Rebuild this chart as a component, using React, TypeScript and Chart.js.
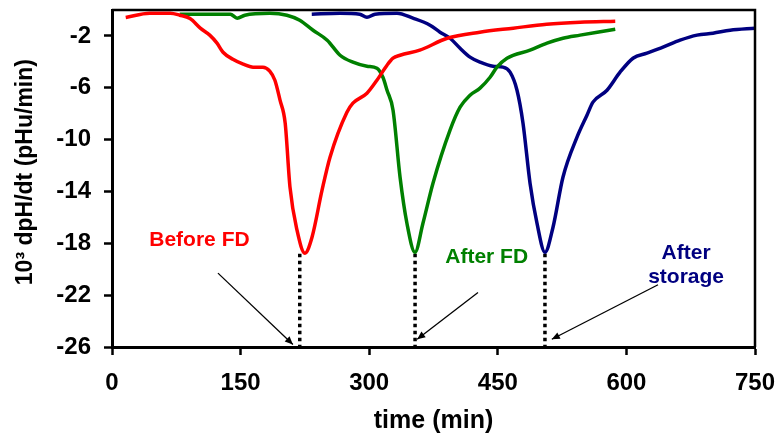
import React, { useEffect, useRef } from "react";
import { Chart, registerables } from "chart.js";

Chart.register(...registerables);

// Axis ticks
const xTicks = [0, 150, 300, 450, 600, 750];
const yTicks = [-2, -6, -10, -14, -18, -22, -26];

// Before FD (red)
const beforeFdTime = [16, 44, 68, 79, 91, 103, 114, 122.5, 129.5, 141, 153, 164.5, 176, 184, 190, 196, 202, 207.6, 215.8, 225, 233.3, 245, 254.3, 274, 281, 297.4, 309, 320.8, 327.8, 336, 359, 391, 429, 468, 507, 546, 587];
const beforeFdRate = [-0.58, -0.25, -0.25, -0.4, -0.66, -1.4, -1.94, -2.56, -3.26, -3.8, -4.18, -4.41, -4.41, -4.72, -5.42, -6.96, -8.73, -13.67, -16.99, -18.76, -17.53, -13.9, -11.36, -7.89, -7.19, -6.42, -5.42, -4.26, -3.72, -3.49, -3.1, -2.18, -1.71, -1.4, -1.1, -0.94, -0.86];

// After FD (green)
const afterFdTime = [79, 103, 138, 146, 155, 184, 204, 219, 234.5, 251, 266, 281, 297.4, 309, 316, 320.8, 327.8, 336, 344, 353.4, 362.7, 374.4, 394.3, 406, 417.6, 429.3, 441, 449, 460.7, 487.6, 507.4, 526, 546, 566, 587];
const afterFdRate = [-0.32, -0.32, -0.32, -0.63, -0.4, -0.25, -0.4, -0.79, -1.56, -2.33, -3.49, -4.03, -4.34, -4.49, -5.19, -6.19, -7.73, -12.9, -16.45, -18.69, -16.45, -13.36, -9.27, -7.5, -6.57, -6.03, -5.19, -4.41, -3.72, -3.1, -2.56, -2.18, -1.94, -1.71, -1.48];

// After storage (navy)
const afterStorageTime = [233, 266, 289, 297.4, 306.8, 332.4, 351, 371, 382.6, 394.3, 406, 417.6, 429.3, 444.4, 456, 464.3, 472.4, 479.4, 487.6, 495.7, 505, 514.4, 526, 542.4, 554, 561, 577.4, 592.6, 607.7, 624, 642.7, 662.6, 682.4, 701, 721, 750];
const afterStorageRate = [-0.32, -0.25, -0.32, -0.56, -0.32, -0.25, -0.63, -1.17, -1.71, -2.18, -2.95, -3.64, -4.03, -4.34, -4.41, -4.8, -6.19, -8.73, -13.36, -16.45, -18.69, -16.76, -12.9, -9.81, -8.12, -7.11, -6.19, -4.8, -3.72, -3.33, -2.87, -2.33, -1.94, -1.79, -1.56, -1.4];

// Dotted drop lines from each minimum to the axis
const dropTime = [219, 353.5, 505];
const dropTop = [-18.8, -18.8, -18.8];
const dropBottom = [-26, -26, -26];

// Arrows (start -> end)
const arrowStartTime = [123.6, 426.9, 636.9];
const arrowStartRate = [-20.3, -21.8, -21.2];
const arrowEndTime = [211, 356, 513];
const arrowEndRate = [-25.8, -25.4, -25.4];

// Annotation labels
const labelLines = [["Before FD"], ["After FD"], ["After", "storage"]];
const labelTime = [102, 437, 669.6];
const labelRate = [-17.76, -19.07, -19.7];
const labelColors = ["#ff0000", "#008000", "#000080"];

const FONT = "'Liberation Sans', Arial, Helvetica, sans-serif";

export default function App() {
  const ref = useRef<HTMLCanvasElement | null>(null);

  useEffect(() => {
    if (!ref.current) return;
    const toPts = (xs: number[], ys: number[]) => xs.map((x, i) => ({ x, y: ys[i] }));

    const series = [
      { data: toPts(beforeFdTime, beforeFdRate), color: "#ff0000" },
      { data: toPts(afterFdTime, afterFdRate), color: "#008000" },
      { data: toPts(afterStorageTime, afterStorageRate), color: "#000080" },
    ].map((s) => ({
      data: s.data,
      borderColor: s.color,
      backgroundColor: s.color,
      borderWidth: 3.5,
      pointRadius: 0,
      cubicInterpolationMode: "monotone" as const,
      fill: false,
    }));

    const drops = dropTime.map((t, i) => ({
      data: [
        { x: t, y: dropTop[i] },
        { x: t, y: dropBottom[i] },
      ],
      borderColor: "#000",
      borderWidth: 3.5,
      borderDash: [3.5, 3.5],
      borderCapStyle: "butt" as const,
      pointRadius: 0,
      fill: false,
      clip: 10,
    }));

    const arrows = arrowStartTime.map((t, i) => ({
      data: [
        { x: t, y: arrowStartRate[i] },
        { x: arrowEndTime[i], y: arrowEndRate[i] },
      ],
      borderColor: "#000",
      borderWidth: 1.3,
      pointRadius: 0,
      fill: false,
      isArrow: true,
    }));

    const extras = {
      id: "extras",
      afterDatasetsDraw(chart: any) {
        const { ctx, chartArea, scales } = chart;
        ctx.save();
        // frame top + right
        ctx.strokeStyle = "#000";
        ctx.lineWidth = 2.5;
        ctx.beginPath();
        ctx.moveTo(chartArea.left, chartArea.top);
        ctx.lineTo(chartArea.right, chartArea.top);
        ctx.lineTo(chartArea.right, chartArea.bottom);
        ctx.stroke();
        // arrowheads
        chart.data.datasets.forEach((ds: any, di: number) => {
          if (!ds.isArrow) return;
          const pts = chart.getDatasetMeta(di).data;
          const a = pts[0];
          const b = pts[1];
          const ang = Math.atan2(b.y - a.y, b.x - a.x);
          const len = 8;
          const hw = 3.5;
          ctx.fillStyle = "#000";
          ctx.beginPath();
          ctx.moveTo(b.x, b.y);
          ctx.lineTo(
            b.x - len * Math.cos(ang) + hw * Math.sin(ang),
            b.y - len * Math.sin(ang) - hw * Math.cos(ang)
          );
          ctx.lineTo(
            b.x - len * Math.cos(ang) - hw * Math.sin(ang),
            b.y - len * Math.sin(ang) + hw * Math.cos(ang)
          );
          ctx.closePath();
          ctx.fill();
        });
        // labels
        ctx.font = `bold 21px ${FONT}`;
        ctx.textAlign = "center";
        ctx.textBaseline = "middle";
        labelLines.forEach((lines, i) => {
          const cx = scales.x.getPixelForValue(labelTime[i]);
          const cy = scales.y.getPixelForValue(labelRate[i]);
          const gap = 24;
          ctx.fillStyle = labelColors[i];
          lines.forEach((ln, k) => {
            ctx.fillText(ln, cx, cy + (k - (lines.length - 1) / 2) * gap);
          });
        });
        ctx.restore();
      },
    };

    const tickFont = { family: FONT, weight: "bold" as const, size: 24 };

    const chart = new Chart(ref.current, {
      type: "line",
      data: { datasets: [...series, ...drops, ...arrows] as any },
      options: {
        animation: false,
        responsive: false,
        maintainAspectRatio: false,
        layout: { padding: { top: 10, right: 28, left: 0, bottom: 0 } },
        plugins: { legend: { display: false }, tooltip: { enabled: false } },
        scales: {
          x: {
            type: "linear",
            min: 0,
            max: 750,
            afterBuildTicks: (s: any) => {
              s.ticks = xTicks.map((v) => ({ value: v }));
            },
            afterFit: (s: any) => {
              s.height = 87;
              s.paddingLeft = 0;
              s.paddingRight = 0;
            },
            ticks: { font: tickFont, color: "#000", padding: 14, autoSkip: false, maxRotation: 0 },
            grid: { drawOnChartArea: false, drawTicks: true, tickLength: 8, tickWidth: 2.5, tickColor: "#000" },
            border: { display: true, color: "#000", width: 3 },
            title: {
              display: true,
              text: "time (min)",
              color: "#000",
              font: { family: FONT, weight: "bold", size: 25, lineHeight: 1 },
              padding: { top: 0, bottom: 0 },
            },
          },
          y: {
            type: "linear",
            min: -26,
            max: 0,
            afterBuildTicks: (s: any) => {
              s.ticks = yTicks.map((v) => ({ value: v }));
            },
            afterFit: (s: any) => {
              s.width = 112;
              s.paddingTop = 0;
              s.paddingBottom = 0;
            },
            ticks: { font: tickFont, color: "#000", padding: 13, autoSkip: false },
            grid: { drawOnChartArea: false, drawTicks: true, tickLength: 8, tickWidth: 2.5, tickColor: "#000" },
            border: { display: true, color: "#000", width: 3 },
            title: {
              display: true,
              text: "  10³ dpH/dt (pHu/min)",
              color: "#000",
              font: { family: FONT, weight: "bold", size: 23, lineHeight: 1 },
              padding: { top: 14, bottom: 0 },
            },
          },
        },
      },
      plugins: [extras],
    });
    return () => chart.destroy();
  }, []);

  return (
    <div style={{ position: "fixed", left: 0, top: 0, width: 783, height: 434, background: "#fff" }}>
      <canvas ref={ref} width={783} height={434} style={{ display: "block", width: 783, height: 434 }} />
    </div>
  );
}
